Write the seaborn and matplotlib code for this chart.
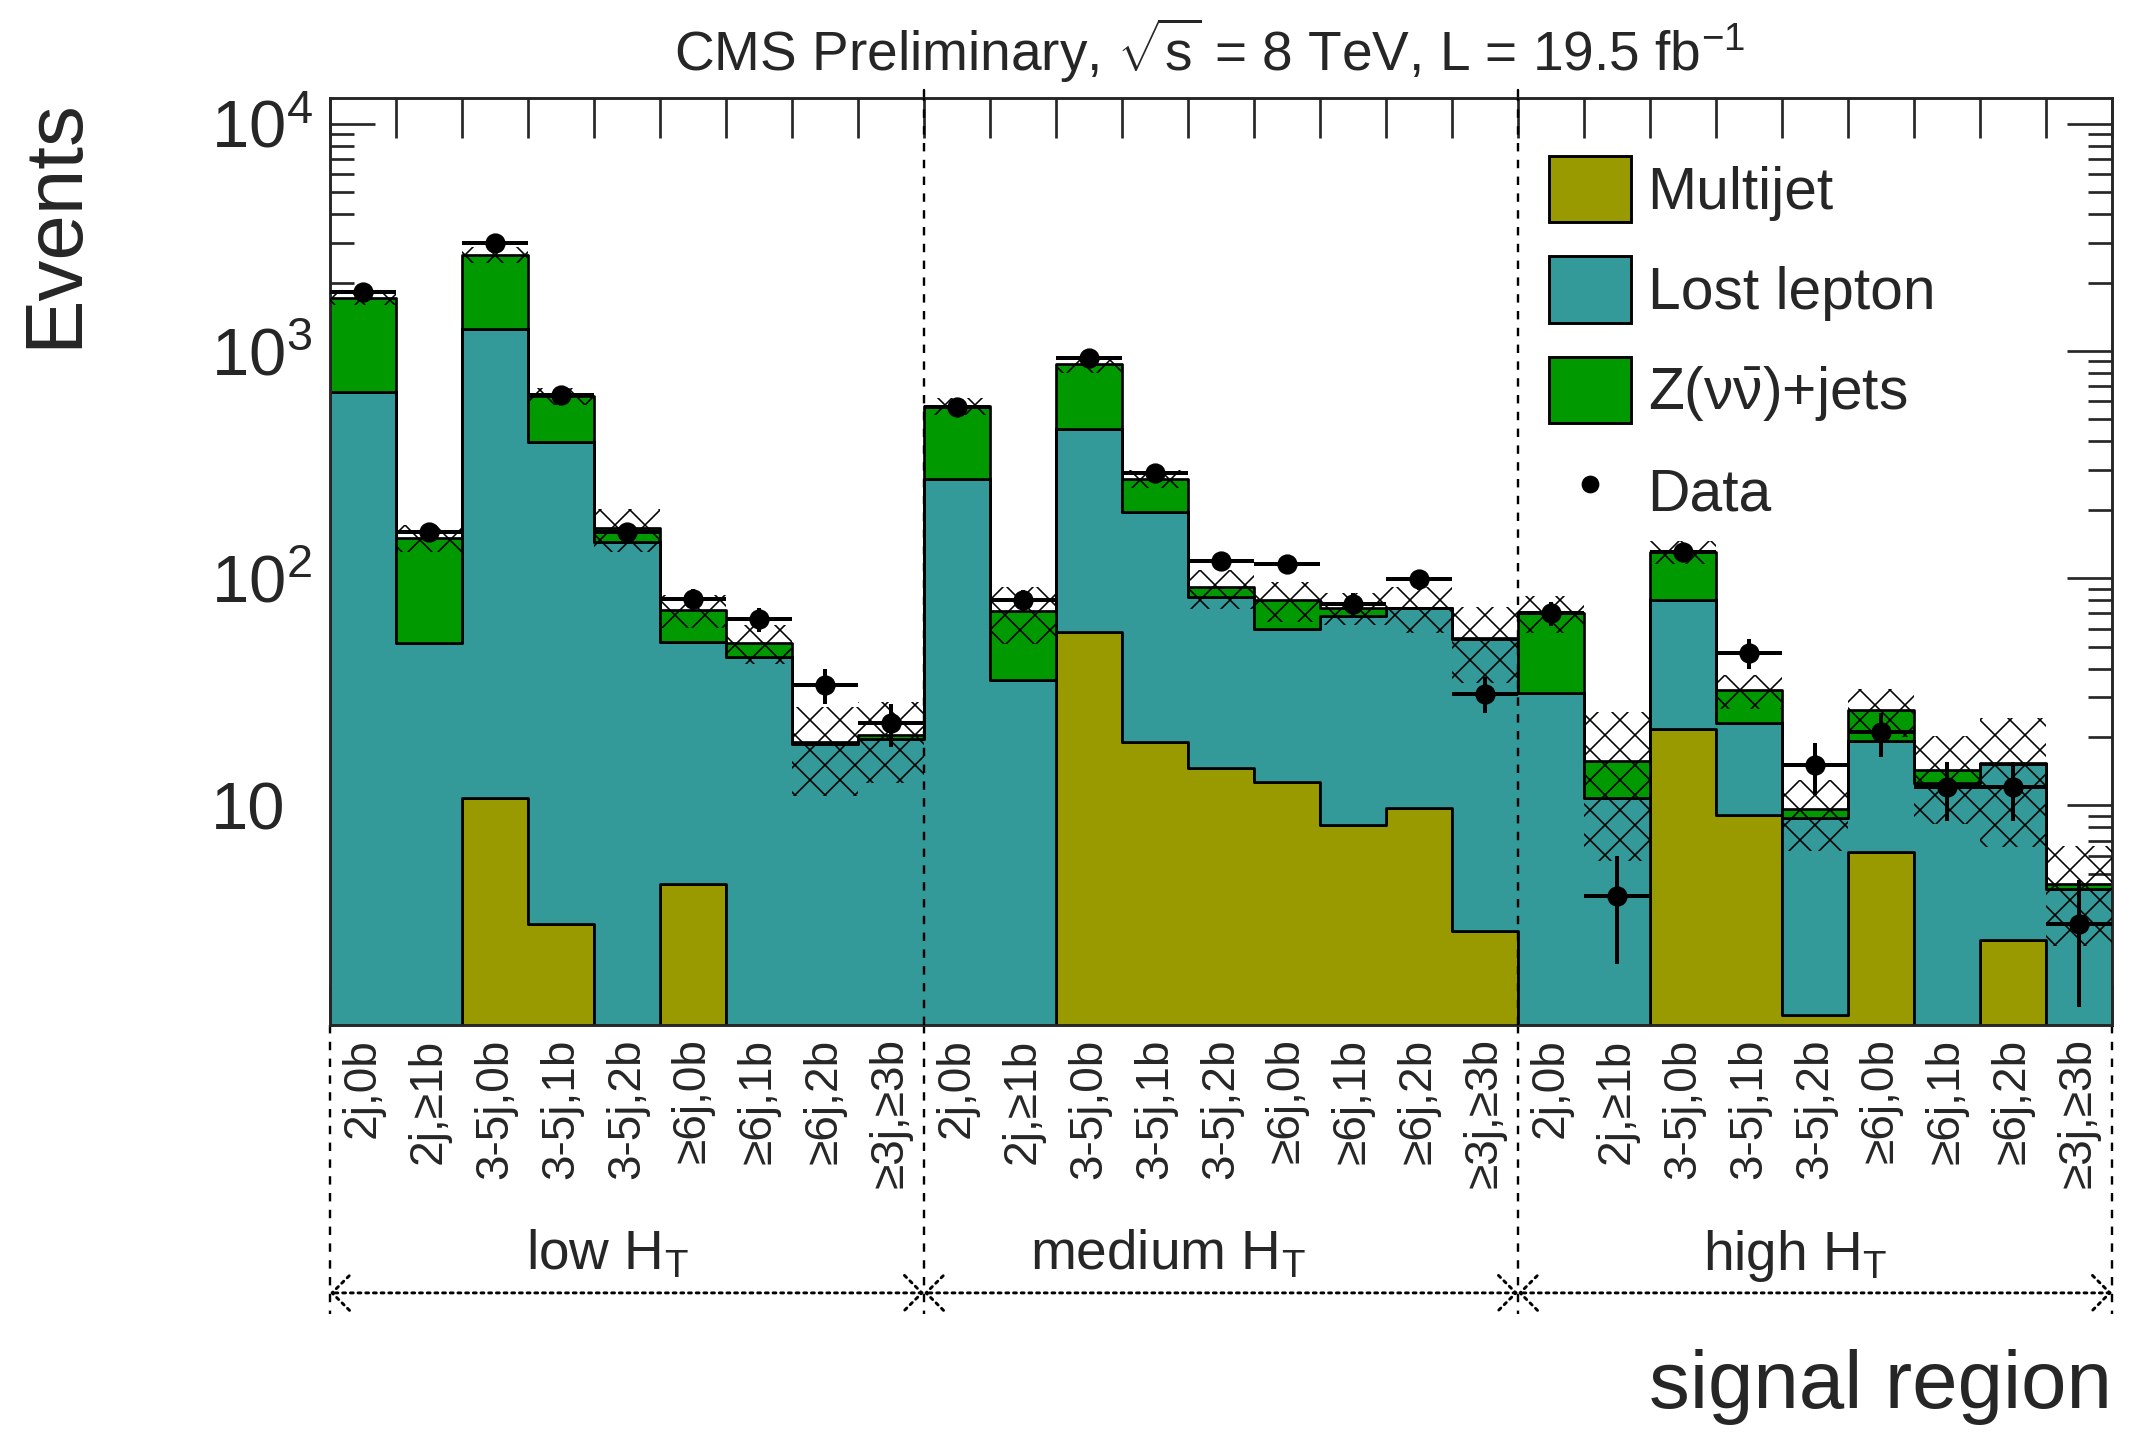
import numpy as np
import pandas as pd
import matplotlib
matplotlib.use("Agg")
import matplotlib.pyplot as plt
import matplotlib.transforms as mtransforms
from matplotlib.patches import Patch
from matplotlib.lines import Line2D
from matplotlib.ticker import LogLocator, FuncFormatter, NullFormatter
import seaborn as sns

# ---------------- data ----------------
bin_labels = ["2j,0b", "2j,≥1b", "3-5j,0b", "3-5j,1b", "3-5j,2b",
              "≥6j,0b", "≥6j,1b", "≥6j,2b", "≥3j,≥3b"] * 3
ht_labels = ["low H$_\\mathrm{T}$", "medium H$_\\mathrm{T}$", "high H$_\\mathrm{T}$"]

multijet = [0, 0, 10.8, 3.0, 0, 4.5, 0, 0, 0,
            0, 0, 57.7, 19.1, 14.6, 12.7, 8.2, 9.7, 2.8,
            0, 0, 21.6, 9.1, 1.2, 6.25, 0, 2.55, 0]
lost_lepton = [662, 52, 1234, 395, 144, 48, 45, 18.7, 19.6,
               274, 35.6, 397, 177, 68, 47, 60, 64, 51.4,
               31.2, 10.8, 58.4, 13.9, 7.6, 13.0, 12.5, 12.7, 4.3]
znunu = [1056, 99, 1410, 236, 22, 20, 7, 0.3, 0.9,
         299, 36, 418, 78, 8.5, 20.4, 5.8, 0.5, 0.3,
         39.3, 4.9, 51, 9.1, 0.8, 7.1, 1.8, 0.1, 0.2]
bkg_unc = [115, 20, 220, 55, 36, 12, 10, 8, 8,
           50, 20, 70, 25, 18, 16, 12, 17, 20,
           13, 10, 15, 5.5, 3.3, 6.3, 6, 8.8, 2.1]
data = [1820, 159, 2980, 640, 160, 81, 66, 34, 23,
        565, 80, 935, 292, 119, 116, 77, 99, 31,
        70, 4, 131, 47, 15, 21, 12, 12, 3]
data_err = [43, 13, 55, 25, 13, 9, 8, 6, 5,
            24, 9, 31, 17, 11, 11, 9, 10, 5.6,
            8.4, 2, 11, 7, 3.9, 4.6, 3.5, 3.5, 1.7]

proc_names = ["Multijet", "Lost lepton", "Z($\\nu\\bar{\\nu}$)+jets"]
proc_colors = ["#999900", "#339999", "#009900"]

# ---------------- style ----------------
DPI = 90
W, H = 2129, 1434


def pt(px):
    """Convert a size in output pixels to points."""
    return px * 72.0 / DPI


sns.set_style("ticks")
plt.rcParams["font.family"] = ["Liberation Sans", "DejaVu Sans"]
plt.rcParams["mathtext.fontset"] = "custom"
plt.rcParams["mathtext.rm"] = "Liberation Sans"
plt.rcParams["mathtext.it"] = "Liberation Sans:italic"
plt.rcParams["mathtext.bf"] = "Liberation Sans:bold"
plt.rcParams["mathtext.default"] = "regular"
plt.rcParams["hatch.linewidth"] = pt(1.6)
plt.rcParams["hatch.color"] = "black"

nbins = len(data)
edges = np.arange(nbins + 1)
centers = edges[:-1] + 0.5

rows = []
for name, vals in zip(proc_names, [multijet, lost_lepton, znunu]):
    for c, v in zip(centers, vals):
        rows.append({"bin": c, "events": v, "process": name})
df = pd.DataFrame(rows)

fig = plt.figure(figsize=(W / DPI, H / DPI), dpi=DPI, facecolor="white")
ax = fig.add_axes([330 / W, 1 - 1025 / H, (2112 - 330) / W, (1025 - 98) / H])

# stacked background histogram (last hue level ends up at the bottom of the stack)
sns.histplot(data=df, x="bin", weights="events", hue="process",
             hue_order=proc_names[::-1], palette=dict(zip(proc_names, proc_colors)),
             multiple="stack", bins=nbins, binrange=(0, nbins), element="step",
             fill=True, alpha=1, edgecolor="black", linewidth=pt(2.7),
             legend=False, ax=ax)

ax.set_yscale("log")
ax.set_ylim(1.08, 1.3e4)
ax.set_xlim(0, nbins)

# background uncertainty band
total = np.array(multijet) + np.array(lost_lepton) + np.array(znunu)
unc = np.array(bkg_unc)
ax.bar(centers, 2 * unc, bottom=total - unc, width=1.0, fill=False,
       hatch="x", edgecolor="black", linewidth=0, zorder=5)

# observed data
ax.errorbar(centers, data, xerr=0.5, yerr=data_err, fmt="o", color="black",
            ms=pt(19), elinewidth=pt(4), capsize=0, zorder=10)

# separators between HT regions
dash = (0, (3.5, 3.5))
for xb in [9, 18]:
    ax.axvline(xb, color="black", lw=pt(2.4), ls=dash, zorder=6)
trans = mtransforms.blended_transform_factory(ax.transData, ax.transAxes)
for xb in [0, 9, 18, 27]:
    ax.plot([xb, xb], [0, -0.312], transform=trans, color="black", lw=pt(2.4),
            ls=dash, clip_on=False)
for xb in [9, 18]:
    ax.plot([xb, xb], [1.0, 1.009], transform=trans, color="black", lw=pt(2.4),
            clip_on=False)

# HT region labels and arrows
for i, (lab, xc) in enumerate(zip(ht_labels, [4.2, 12.7, 22.2])):
    ax.text(xc, -0.264, lab, transform=trans, ha="center", va="baseline",
            fontsize=pt(55))
    ax.annotate("", xy=(9 * i, -0.289), xytext=(9 * (i + 1), -0.289),
                xycoords=trans, textcoords=trans,
                arrowprops=dict(arrowstyle="<->,head_length=0.25,head_width=0.25",
                                ls=":", lw=pt(2.9), color="black", shrinkA=0, shrinkB=0,
                                mutation_scale=pt(70)))

# axes ticks
ax.set_xticks(edges)
ax.xaxis.set_major_formatter(NullFormatter())
ax.set_xticks(centers, minor=True)
ax.set_xticklabels(bin_labels, minor=True, rotation=90, fontsize=pt(46))
ax.tick_params(axis="x", which="major", direction="in", length=pt(40), width=pt(2.7),
               top=True, bottom=True)
ax.tick_params(axis="x", which="minor", length=0, pad=pt(13.5))


def ylab(v, p):
    e = int(round(np.log10(v)))
    if e == 1:
        return "10"
    return f"$10^{{{e}}}$"


ax.yaxis.set_major_locator(LogLocator(base=10, numticks=10))
ax.yaxis.set_minor_locator(LogLocator(base=10, subs=np.arange(2, 10), numticks=20))
ax.yaxis.set_minor_formatter(NullFormatter())
ax.yaxis.set_major_formatter(FuncFormatter(ylab))
# labels start at a common left edge, so the mantissas line up
ax.tick_params(axis="y", which="major", direction="in", length=pt(45), width=pt(2.7),
               right=True, labelsize=pt(67), pad=pt(119))
ax.tick_params(axis="y", which="minor", direction="in", length=pt(24), width=pt(2.7),
               right=True)
for s in ax.spines.values():
    s.set_linewidth(pt(2.9))
    s.set_visible(True)
ax.set_xlabel("")
ax.set_ylabel("")

# legend
handles = [Patch(facecolor=c, edgecolor="black", linewidth=pt(2.9)) for c in proc_colors]
handles.append(Line2D([], [], marker="o", color="black", ls="none", ms=pt(16.5)))
ax.legend(handles, proc_names + ["Data"], loc="upper left",
          bbox_to_anchor=(0.684, 0.9374), frameon=False, fontsize=pt(58.7),
          handlelength=1.4, handleheight=1.36, handletextpad=0.28,
          labelspacing=0.58, borderpad=0, borderaxespad=0)

# titles
fig.text(1210 / W, 1 - 71 / H, "CMS Preliminary, $\\sqrt{s}$ = 8 TeV, L = 19.5 fb$^{-1}$",
         ha="center", va="baseline", fontsize=pt(55))
fig.text(55 / W, 1 - 98 / H, "Events", rotation=90, ha="center", va="top",
         fontsize=pt(81.6))
fig.text(2112 / W, 1 - 1408 / H, "signal region", ha="right", va="baseline",
         fontsize=pt(81.6))

fig.canvas.draw()
for lbl in ax.get_yticklabels():
    lbl.set_horizontalalignment("left")

fig.savefig("out.png", dpi=DPI, facecolor="white")
